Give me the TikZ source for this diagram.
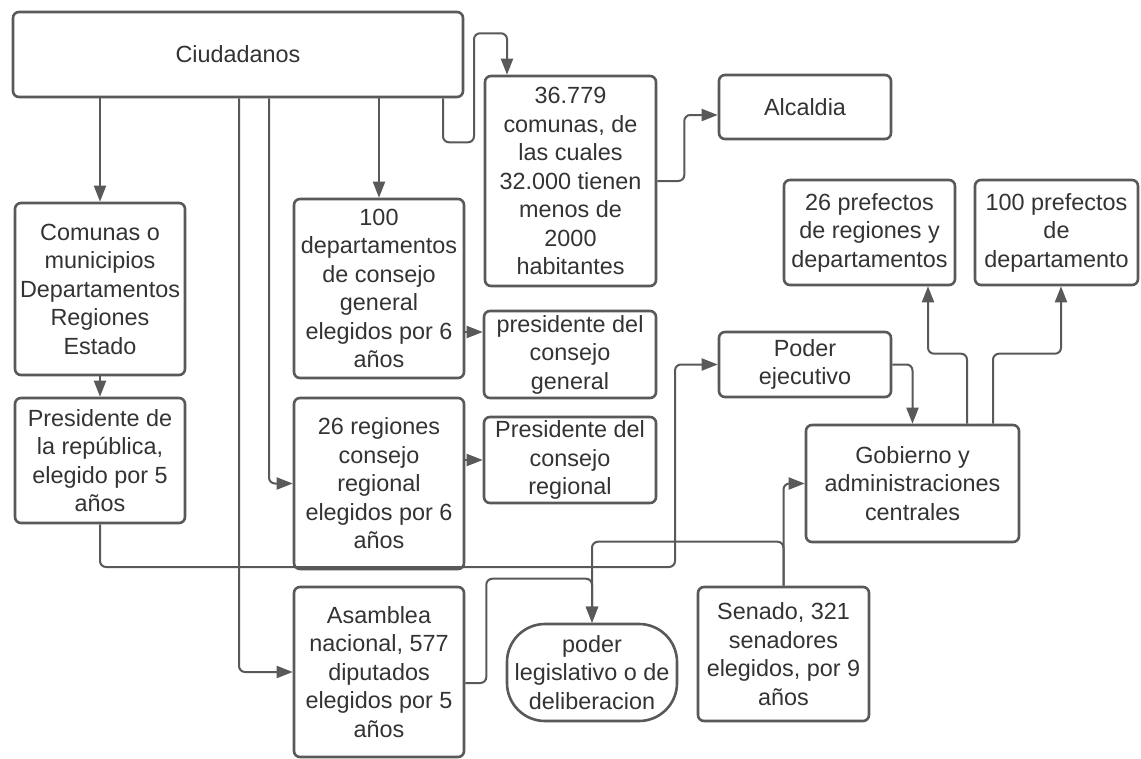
\documentclass[tikz,border=0pt]{standalone}
\usepackage{fontspec}
\setmainfont{Liberation Sans}
\usetikzlibrary{arrows.meta,calc}
\definecolor{linec}{HTML}{595959}
\definecolor{textc}{HTML}{333333}
\tikzset{
  box/.style={draw=linec, line width=2.6pt, rounded corners=6pt, fill=white,
    align=center, inner sep=0pt, text=textc,
    font=\fontsize{23.4}{28.5}\selectfont},
  conn/.style={draw=linec, line width=2pt, rounded corners=6pt,
    -{Triangle[length=16pt,width=12pt]}},
  plain/.style={draw=linec, line width=2pt, rounded corners=6pt}
}
\begin{document}
\begin{tikzpicture}[x=1pt,y=-1pt]
\useasboundingbox[fill=white] (0,0) rectangle (1141,758);

\node[box, minimum width=450pt, minimum height=85pt] (ciud) at (238,54.5) {Ciudadanos};
\node[box, minimum width=170pt, minimum height=172pt] (comunas) at (100,289) {Comunas o\\municipios\\Departamentos\\Regiones\\Estado};
\node[box, minimum width=170pt, minimum height=125pt] (pres) at (100,460.5) {Presidente de\\la república,\\elegido por 5\\años};
\node[box, minimum width=170pt, minimum height=179pt] (dep) at (379,288.5) {100\\departamentos\\de consejo\\general\\elegidos por 6\\años};
\node[box, minimum width=170pt, minimum height=171pt] (reg) at (379,483.5) {26 regiones\\consejo\\regional\\elegidos por 6\\años};
\node[box, minimum width=170pt, minimum height=170pt] (asam) at (379,672) {Asamblea\\nacional, 577\\diputados\\elegidos por 5\\años};
\node[box, minimum width=171pt, minimum height=210pt] (com36) at (570.5,181) {36.779\\comunas, de\\las cuales\\32.000 tienen\\menos de\\2000\\habitantes};
\node[box, minimum width=172pt, minimum height=64pt] (alc) at (805,107) {Alcaldia};
\node[box, minimum width=172pt, minimum height=87pt] (pcg) at (570,354.5) {presidente del\\consejo\\general};
\node[box, minimum width=172pt, minimum height=86pt] (pcr) at (570,460) {Presidente del\\consejo\\regional};
\node[box, minimum width=172pt, minimum height=65pt] (pe) at (805,364.5) {Poder\\ejecutivo};
\node[box, minimum width=213pt, minimum height=117pt] (gob) at (912.5,483.5) {Gobierno y\\administraciones\\centrales};
\node[box, minimum width=171pt, minimum height=105pt] (p26) at (869.5,232.5) {26 prefectos\\de regiones y\\departamentos};
\node[box, minimum width=163pt, minimum height=105pt] (p100) at (1056.5,232.5) {100 prefectos\\de\\departamento};
\node[box, rounded corners=38pt, minimum width=170pt, minimum height=97pt] (leg) at (592,672.5) {poder\\legislativo o de\\deliberacion};
\node[box, minimum width=171pt, minimum height=134pt] (sen) at (783.5,654) {Senado, 321\\senadores\\elegidos, por 9\\años};

% connectors
\draw[conn] (ciud.south -| comunas.north) -- (comunas.north);
\draw[conn] (ciud.south -| dep.north) -- (dep.north);
\draw[conn] ([xshift=205pt]ciud.south) -- ++(0,44) -- ++(31,0) -- ++(0,-109) -- ++(33,0) -- ([xshift=-63.5pt]com36.north);
\draw[conn] ([xshift=1pt]ciud.south) |- (asam.west);
\draw[conn] ([xshift=31pt]ciud.south) |- (reg.west);
\draw[conn] (comunas.south) -- (pres.north);
\coordinate (g1) at ([yshift=-43.5pt]dep.east);
\draw[conn] (g1) -- (g1 -| pcg.west);
\draw[conn] (reg.east |- pcr.west) -- (pcr.west);
\draw[conn] (com36.east) -- ++(27,0) |- ([yshift=-8pt]alc.west);
\coordinate (jb) at (675,567);
\draw[conn] (pres.south) |- (jb) |- (pe.west);
\draw[conn] ([yshift=-11pt]asam.east) -- ++(21,0) |- ($(leg.north)+(0,-44)$) -- (leg.north);
\draw[conn] (sen.north) |- (gob.west);
\draw[conn] (sen.north) -- ++(0,-44) -| (leg.north);
\draw[conn] (pe.east) -| (gob.north);
\draw[conn] ([xshift=54.5pt]gob.north) -- ++(0,-70) -| ([xshift=58.5pt]p26.south);
\draw[conn] ([xshift=80.5pt]gob.north) -- ++(0,-70) -| ([xshift=4.5pt]p100.south);
\end{tikzpicture}
\end{document}
